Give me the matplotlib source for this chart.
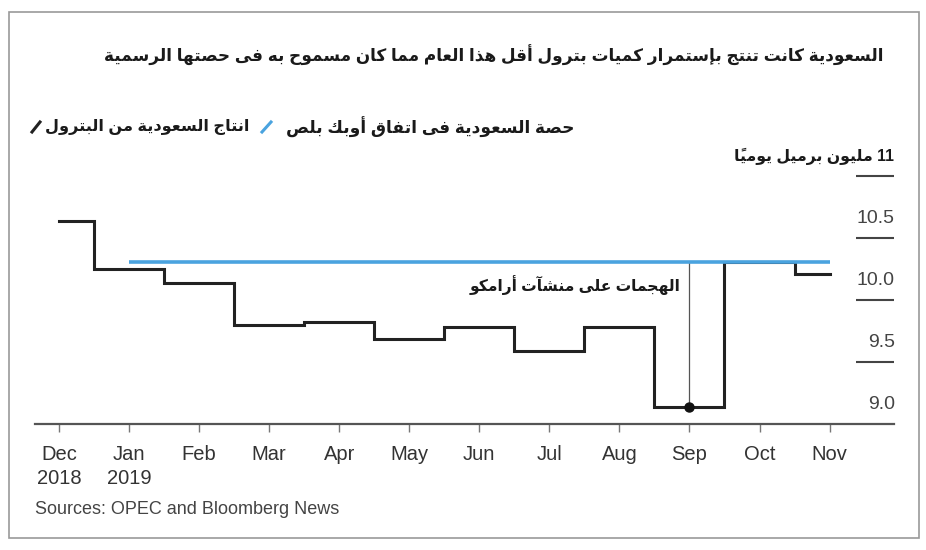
import matplotlib
matplotlib.use('Agg')
import numpy as np
import matplotlib.pyplot as plt
from matplotlib.lines import Line2D
from matplotlib.patches import Rectangle
from matplotlib.transforms import offset_copy

W, H = 926, 550

# --- data (million barrels per day) ---
months = ['Dec\n2018', 'Jan\n2019', 'Feb', 'Mar', 'Apr', 'May', 'Jun',
          'Jul', 'Aug', 'Sep', 'Oct', 'Nov']
production = [10.64, 10.25, 10.14, 9.80, 9.82, 9.69, 9.78, 9.59, 9.78, 9.14, 10.31, 10.21]
quota_months = ['Jan\n2019', 'Feb', 'Mar', 'Apr', 'May', 'Jun', 'Jul', 'Aug', 'Sep', 'Oct', 'Nov']
quota = [10.311, 10.311, 10.311, 10.311, 10.311, 10.311, 10.311, 10.311, 10.311, 10.311, 10.311]
attack_month = 'Sep'

ytick_vals = [9.0, 9.5, 10.0, 10.5, 11.0]
ytick_labels = ['9.0', '9.5', '10.0', '10.5', '11 مليون برميل يومياً']

title = 'السعودية كانت تنتج بإستمرار كميات بترول أقل هذا العام مما كان مسموح به فى حصتها الرسمية'
legend_quota = 'حصة السعودية فى اتفاق أوبك بلص'
legend_prod = 'انتاج السعودية من البترول'
attack_note = 'الهجمات على منشآت أرامكو'
source = 'Sources: OPEC and Bloomberg News'

# --- minimal arabic shaping (no reshaper available) ---
FORMS = {
    'ء': (0xFE80, 1), 'آ': (0xFE81, 2), 'أ': (0xFE83, 2), 'ؤ': (0xFE85, 2),
    'إ': (0xFE87, 2), 'ئ': (0xFE89, 4), 'ا': (0xFE8D, 2), 'ب': (0xFE8F, 4),
    'ة': (0xFE93, 2), 'ت': (0xFE95, 4), 'ث': (0xFE99, 4), 'ج': (0xFE9D, 4),
    'ح': (0xFEA1, 4), 'خ': (0xFEA5, 4), 'د': (0xFEA9, 2), 'ذ': (0xFEAB, 2),
    'ر': (0xFEAD, 2), 'ز': (0xFEAF, 2), 'س': (0xFEB1, 4), 'ش': (0xFEB5, 4),
    'ص': (0xFEB9, 4), 'ض': (0xFEBD, 4), 'ط': (0xFEC1, 4), 'ظ': (0xFEC5, 4),
    'ع': (0xFEC9, 4), 'غ': (0xFECD, 4), 'ف': (0xFED1, 4), 'ق': (0xFED5, 4),
    'ك': (0xFED9, 4), 'ل': (0xFEDD, 4), 'م': (0xFEE1, 4), 'ن': (0xFEE5, 4),
    'ه': (0xFEE9, 4), 'و': (0xFEED, 2), 'ى': (0xFEEF, 2), 'ي': (0xFEF1, 4),
}
LAM_ALEF = {'ا': 0xFEFB, 'أ': 0xFEF7, 'إ': 0xFEF9, 'آ': 0xFEF5}


def links_next(u):
    return u in FORMS and FORMS[u][1] == 4


def links_prev(u):
    return (u in FORMS and FORMS[u][1] >= 2) or (len(u) == 2 and u[0] == 'ل')


def arabic(text):
    units = []
    i = 0
    while i < len(text):
        c = text[i]
        if '\u064b' <= c <= '\u0652' and units:
            units[-1][1] += c
            i += 1
        elif c == 'ل' and i + 1 < len(text) and text[i + 1] in LAM_ALEF:
            units.append([c + text[i + 1], ''])
            i += 2
        else:
            units.append([c, ''])
            i += 1
    glyphs = []
    for k, (base, marks) in enumerate(units):
        prev = units[k - 1][0] if k > 0 else ''
        nxt = units[k + 1][0] if k + 1 < len(units) else ''
        jp = links_prev(base) and links_next(prev)
        jn = links_next(base) and links_prev(nxt)
        if len(base) == 2:
            g = chr(LAM_ALEF[base[1]] + (1 if jp else 0))
        elif base in FORMS:
            start, n = FORMS[base]
            idx = 3 if (jp and jn) else 1 if jp else 2 if jn else 0
            g = chr(start + min(idx, n - 1))
        else:
            g = base
        glyphs.append(g + marks)
    glyphs = glyphs[::-1]
    # keep digit / latin runs left to right
    out, run = [], []
    for g in glyphs:
        if g.isascii() and (g.isalnum() or g == '.'):
            run.append(g)
        else:
            out.extend(run[::-1])
            run = []
            out.append(g)
    out.extend(run[::-1])
    return ''.join(out)


plt.rcParams['font.family'] = ['Liberation Sans', 'DejaVu Sans']

fig = plt.figure(figsize=(W / 100, H / 100), dpi=100)
fig.patch.set_facecolor('white')


def fit(txt, width_px):
    r = fig.canvas.get_renderer()
    w = txt.get_window_extent(r).width
    txt.set_fontsize(txt.get_fontsize() * width_px / w)


ax = fig.add_axes([35 / W, 1 - 424.3 / H, 859 / W, (424.3 - 176) / H])
x = np.arange(len(months))
xq = np.array([months.index(m) for m in quota_months])

ax.plot(x, production, drawstyle='steps-mid', color='#222222', lw=2.2,
        solid_joinstyle='miter', zorder=3)
ax.plot(xq, quota, color='#4aa3df', lw=2.6, solid_capstyle='butt', zorder=4)

# attack marker
xa = months.index(attack_month)
ax.plot([xa, xa], [production[xa], quota[quota_months.index(attack_month)]],
        color='#555555', lw=0.9, zorder=2)
ax.plot(xa, production[xa], 'o', color='#111111', ms=6.5, zorder=5)
note = ax.text(xa - 0.13, 10.125, arabic(attack_note), ha='right', va='center',
               fontsize=13, fontweight='bold', color='#1a1a1a')

ax.set_xlim(-0.343, 11.92)
ax.set_ylim(9.0, 11.0)
for s in ['left', 'right', 'top']:
    ax.spines[s].set_visible(False)
ax.spines['bottom'].set_color('#555555')
ax.spines['bottom'].set_linewidth(1.6)
ax.set_xticks(x)
ax.set_xticklabels(months)
ax.tick_params(axis='x', length=6, width=1, color='#777777', pad=9,
               labelsize=14.5, labelcolor='#333333')
for t in ax.get_xticklabels():
    t.set_linespacing(1.3)
ax.set_yticks([])

# right-side gridline dashes and labels sitting on them
ax.hlines(ytick_vals[1:], 0.956, 1.0, transform=ax.get_yaxis_transform(),
          color='#444444', lw=1.5, clip_on=False)
lab_tr = offset_copy(ax.get_yaxis_transform(), fig=fig, y=20, units='dots')
for v, lab in zip(ytick_vals, ytick_labels):
    if lab.isascii():
        ax.text(1.001, v, lab, transform=lab_tr, ha='right', va='center',
                fontsize=14, color='#444444')
    else:
        t = ax.text(1.0, v, arabic(lab), transform=lab_tr, ha='right', va='center',
                    fontsize=13, fontweight='bold', color='#1a1a1a')
        fit(t, 160)

# title + legend
t = fig.text(883 / W, 1 - 55 / H, arabic(title), ha='right', va='center',
             fontsize=16, fontweight='bold', color='#1a1a1a')
fit(t, 778)
t = fig.text(575 / W, 1 - 127 / H, arabic(legend_quota), ha='right', va='center',
             fontsize=14, fontweight='bold', color='#1a1a1a')
fit(t, 290)
t = fig.text(249 / W, 1 - 127 / H, arabic(legend_prod), ha='right', va='center',
             fontsize=14, fontweight='bold', color='#1a1a1a')
fit(t, 205)
fit(note, 212)
fig.add_artist(Line2D([262 / W, 271 / W], [1 - 132 / H, 1 - 122 / H],
                      transform=fig.transFigure, color='#4aa3df', lw=2.2))
fig.add_artist(Line2D([32 / W, 40 / W], [1 - 132 / H, 1 - 122 / H],
                      transform=fig.transFigure, color='#222222', lw=2.2))

fig.text(35 / W, 1 - 510 / H, source, ha='left', va='center',
         fontsize=13, color='#444444')

fig.add_artist(Rectangle((9 / W, 12.5 / H), 910 / W, 526 / H, transform=fig.transFigure,
                         fill=False, ec='#999999', lw=1.2))

fig.savefig('out.png', dpi=100)
